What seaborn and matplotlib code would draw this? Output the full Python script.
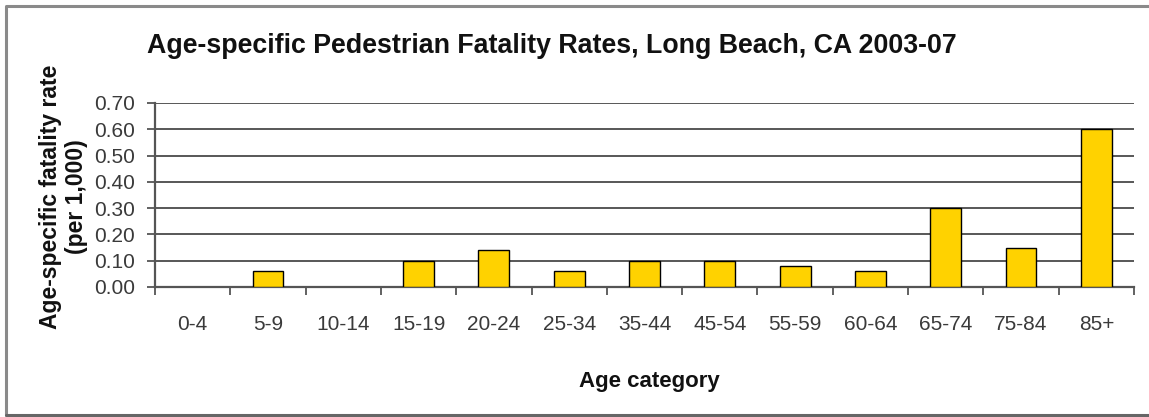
import matplotlib
matplotlib.use("Agg")
import matplotlib.pyplot as plt
import seaborn as sns
import pandas as pd
from matplotlib.lines import Line2D
from matplotlib.ticker import MultipleLocator, FixedLocator

categories = ["0-4", "5-9", "10-14", "15-19", "20-24", "25-34", "35-44",
              "45-54", "55-59", "60-64", "65-74", "75-84", "85+"]
rates = [0.0, 0.06, 0.0, 0.10, 0.14, 0.06, 0.10, 0.10, 0.08, 0.06, 0.30, 0.15, 0.60]
title = "Age-specific Pedestrian Fatality Rates, Long Beach, CA 2003-07"
xlabel = "Age category"
ylabel = "Age-specific fatality rate\n(per 1,000)"

sns.set_theme(style="white")
plt.rcParams["font.family"] = ["Liberation Sans", "DejaVu Sans"]

df = pd.DataFrame({"age": categories, "rate": rates})

W, H = 1149, 417
fig = plt.figure(figsize=(W / 100, H / 100), dpi=100)
L, R, T, B = 155, 1134, 103, 287
ax = fig.add_axes([L / W, 1 - B / H, (R - L) / W, (B - T) / H])

sns.barplot(data=df, x="age", y="rate", color="#FFD200", edgecolor="black",
            linewidth=1.0, width=0.41, saturation=1, ax=ax, zorder=3)
# hide outline of zero-height bars
for p in ax.patches:
    if p.get_height() == 0:
        p.set_visible(False)

ax.set_ylim(0, 0.70)
ax.set_xlim(-0.5, len(categories) - 0.5)
ax.yaxis.set_major_locator(MultipleLocator(0.1))
ax.set_yticks(ax.get_yticks())
ax.set_yticklabels([f"{v:.2f}" for v in ax.get_yticks()])
ax.set_ylim(0, 0.70)
ax.grid(axis="y", color="#2a2a2a", linewidth=1.1, zorder=0)
ax.set_axisbelow(True)

for s in ["top", "right"]:
    ax.spines[s].set_visible(False)
for s in ["left", "bottom"]:
    ax.spines[s].set_color("#555555")
    ax.spines[s].set_linewidth(1.6)

ax.tick_params(axis="y", which="major", direction="out", length=6, width=1.3,
               color="#555555", left=True, labelsize=15, labelcolor="#3a3a3a", pad=8.5)
ax.tick_params(axis="x", which="major", length=0, pad=20, labelsize=15,
               labelcolor="#3a3a3a")
ax.xaxis.set_minor_locator(FixedLocator([i - 0.5 for i in range(len(categories) + 1)]))
ax.tick_params(axis="x", which="minor", direction="out", length=6, width=1.3,
               color="#555555", bottom=True)

ax.set_xlabel(xlabel, fontsize=16, fontweight="bold", color="#111111")
ax.xaxis.set_label_coords((649 - L) / (R - L), (B - 381) / (B - T))
ax.xaxis.label.set_va("center")

ax.set_ylabel(ylabel, fontsize=16.5, fontweight="bold", color="#111111",
              linespacing=1.12)
ax.yaxis.set_label_coords((63.5 - L) / (R - L), (B - 196.5) / (B - T))
ax.yaxis.label.set_va("center")

fig.text(552 / W, 1 - 53 / H, title, ha="center", va="baseline", fontsize=19.3,
         fontweight="bold", color="#111111")

# outer frame (right side extends past the image)
fig.add_artist(Line2D([5.5 / W, 5.5 / W, 1.0], [1 - 415 / H, 1 - 5.5 / H, 1 - 5.5 / H],
                      transform=fig.transFigure, color="#8a8a8a", linewidth=2.2))
fig.add_artist(Line2D([5.5 / W, 1.0], [1 - 415 / H, 1 - 415 / H],
                      transform=fig.transFigure, color="#666666", linewidth=2.2))

fig.savefig("out.png", dpi=100)
